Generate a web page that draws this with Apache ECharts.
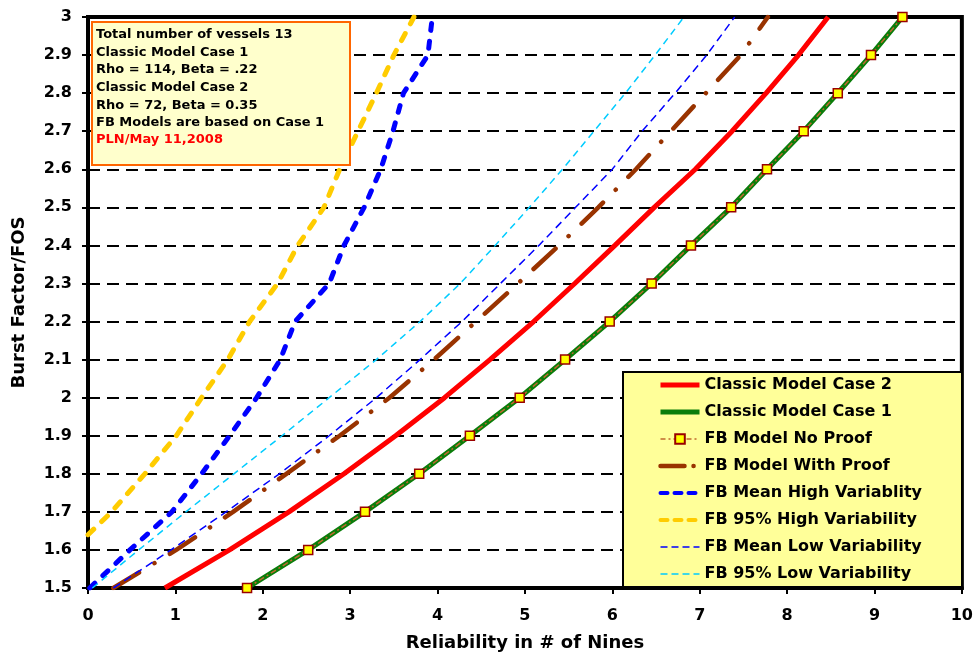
<!DOCTYPE html>
<html>
<head>
<meta charset="utf-8">
<script src="https://cdn.jsdelivr.net/npm/echarts/dist/echarts.min.js"></script>
<style>
  html, body { margin: 0; padding: 0; background: #fff; }
  #main { width: 976px; height: 658px; }
</style>
</head>
<body>
<div id="main"></div>
<script>
// burst factor levels (y) shared by most curves
var levels = [1.5, 1.6, 1.7, 1.8, 1.9, 2.0, 2.1, 2.2, 2.3, 2.4, 2.5, 2.6, 2.7, 2.8, 2.9, 3.0];

// reliability (# of nines) at each level
var caseTwo   = [0.88, 1.62, 2.30, 2.93, 3.52, 4.08, 4.60, 5.10, 5.57, 6.03, 6.48, 6.95, 7.37, 7.76, 8.13, 8.47];
var caseOne   = [1.82, 2.52, 3.17, 3.79, 4.37, 4.94, 5.46, 5.97, 6.45, 6.90, 7.36, 7.77, 8.19, 8.58, 8.96, 9.32];
var noProof   = [1.82, 2.52, 3.17, 3.79, 4.37, 4.94, 5.46, 5.97, 6.45, 6.90, 7.36, 7.77, 8.19, 8.58, 8.96, 9.32];
var withProof = [0.29, 1.01, 1.66, 2.27, 2.88, 3.45, 3.96, 4.44, 4.92, 5.39, 5.84, 6.27, 6.67, 7.07, 7.47, 7.78];
var meanHigh  = [0.02, 0.48, 0.96, 1.30, 1.62, 1.93, 2.20, 2.37, 2.76, 2.93, 3.16, 3.35, 3.49, 3.61, 3.89, 3.94];
var meanLow   = [0.29, 0.95, 1.58, 2.19, 2.76, 3.30, 3.80, 4.28, 4.72, 5.16, 5.58, 6.00, 6.34, 6.72, 7.08, 7.40];
var low95     = [0.05, 0.58, 1.12, 1.67, 2.22, 2.76, 3.30, 3.80, 4.26, 4.66, 5.05, 5.43, 5.79, 6.15, 6.49, 6.82];

// the 95% high variability curve starts higher up on the y axis
var high95Levels = [1.64, 1.7, 1.8, 1.9, 2.0, 2.1, 2.2, 2.3, 2.4, 2.5, 2.6, 2.7, 2.8, 2.9, 3.0];
var high95       = [0, 0.27, 0.65, 1.01, 1.30, 1.60, 1.85, 2.17, 2.40, 2.70, 2.88, 3.09, 3.30, 3.50, 3.73];

var infoLines = [
  'Total number of vessels 13',
  'Classic Model Case 1',
  'Rho = 114, Beta = .22',
  'Classic Model Case 2',
  'Rho = 72, Beta = 0.35',
  'FB Models are based on Case 1'
];
var stamp = 'PLN/May 11,2008';

var FONT = '"DejaVu Sans", Arial, sans-serif';

function pairs(xs, ys) {
  return xs.map(function (x, i) { return [x, ys[i]]; });
}

// legend entry with line only (hide the default circle symbol)
function lineOnly(name, lineStyle) {
  return { name: name, itemStyle: { opacity: 0, borderWidth: 0 }, lineStyle: lineStyle };
}

var chart = echarts.init(document.getElementById('main'), null, { renderer: 'canvas' });

var option = {
  animation: false,
  backgroundColor: '#fff',
  textStyle: { fontFamily: FONT },
  grid: {
    left: 88, right: 12, top: 17, bottom: 70,
    show: true, borderColor: '#000', borderWidth: 4, backgroundColor: '#fff'
  },
  xAxis: {
    type: 'value', min: 0, max: 10, interval: 1,
    name: 'Reliability in # of Nines', nameLocation: 'middle', nameGap: 46,
    nameTextStyle: { fontFamily: FONT, fontWeight: 'bold', fontSize: 18, color: '#000' },
    axisLine: { lineStyle: { color: '#000', width: 4 } },
    axisTick: { length: 6, lineStyle: { color: '#000', width: 2 } },
    axisLabel: { margin: 20, fontFamily: FONT, fontWeight: 'bold', fontSize: 16, color: '#000' },
    splitLine: { show: false }
  },
  yAxis: {
    type: 'value', min: 1.5, max: 3, interval: 0.1,
    name: 'Burst Factor/FOS', nameLocation: 'middle', nameGap: 60,
    nameTextStyle: { fontFamily: FONT, fontWeight: 'bold', fontSize: 18, color: '#000' },
    axisLine: { lineStyle: { color: '#000', width: 4 } },
    axisTick: { length: 6, lineStyle: { color: '#000', width: 2 } },
    axisLabel: { margin: 16, fontFamily: FONT, fontWeight: 'bold', fontSize: 16, color: '#000' },
    splitLine: { show: true, lineStyle: { color: '#000', width: 2, type: [12, 7] } }
  },
  legend: {
    orient: 'vertical', left: 623, top: 372,
    padding: [3, 40, 3, 35],
    backgroundColor: '#ffff99', borderColor: '#000', borderWidth: 2,
    itemWidth: 39, itemHeight: 12, itemGap: 7,
    textStyle: { fontFamily: FONT, fontWeight: 'bold', fontSize: 16, color: '#000', lineHeight: 20 },
    data: [
      lineOnly('Classic Model Case 2', { width: 5 }),
      lineOnly('Classic Model Case 1', { width: 5 }),
      { name: 'FB Model No Proof', lineStyle: { width: 1.5, type: [5, 3, 2, 3] } },
      lineOnly('FB Model With Proof', { width: 4.5, type: [24, 9, 0.1, 9], cap: 'round' }),
      lineOnly('FB Mean High Variablity', { width: 4, type: [7, 7], cap: 'round' }),
      lineOnly('FB 95% High Variability', { width: 4, type: [7, 7], cap: 'round' }),
      lineOnly('FB Mean Low Variability', { width: 1.5, type: [7, 4] }),
      lineOnly('FB 95% Low Variability', { width: 1.5, type: [7, 4] })
    ]
  },
  graphic: [
    {
      type: 'rect', left: 91, top: 21, z: 10,
      shape: { width: 258, height: 143 },
      style: { fill: '#ffffcc', stroke: '#ff6600', lineWidth: 2 }
    },
    {
      type: 'text', left: 96, top: 26, z: 11,
      style: { text: infoLines.join('\n'), font: 'bold 13px ' + FONT, lineHeight: 17.6, fill: '#000' }
    },
    {
      type: 'text', left: 96, top: 131, z: 11,
      style: { text: stamp, font: 'bold 13px ' + FONT, lineHeight: 17.6, fill: '#ff0000' }
    }
  ],
  series: [
    {
      name: 'Classic Model Case 2', type: 'line', symbol: 'none',
      data: pairs(caseTwo, levels),
      lineStyle: { color: '#ff0000', width: 5 }, itemStyle: { color: '#ff0000' }
    },
    {
      name: 'Classic Model Case 1', type: 'line', symbol: 'none',
      data: pairs(caseOne, levels),
      lineStyle: { color: '#0a7d0a', width: 5 }, itemStyle: { color: '#0a7d0a' }
    },
    {
      name: 'FB Model No Proof', type: 'line', symbol: 'rect', symbolSize: 9,
      data: pairs(noProof, levels),
      lineStyle: { color: '#c0692e', width: 1.5, type: [6, 3, 2, 3] },
      itemStyle: { color: '#ffff00', borderColor: '#990000', borderWidth: 1.5 }
    },
    {
      name: 'FB Model With Proof', type: 'line', symbol: 'none',
      data: pairs(withProof, levels),
      lineStyle: { color: '#993300', width: 4.5, type: [30, 18, 0.1, 18], cap: 'round' },
      itemStyle: { color: '#993300' }
    },
    {
      name: 'FB Mean High Variablity', type: 'line', symbol: 'none',
      data: pairs(meanHigh, levels),
      lineStyle: { color: '#0000ff', width: 5, type: [7, 11], cap: 'round' },
      itemStyle: { color: '#0000ff' }
    },
    {
      name: 'FB 95% High Variability', type: 'line', symbol: 'none',
      data: pairs(high95, high95Levels),
      lineStyle: { color: '#ffcc00', width: 5, type: [8, 11], cap: 'round' },
      itemStyle: { color: '#ffcc00' }
    },
    {
      name: 'FB Mean Low Variability', type: 'line', symbol: 'none',
      data: pairs(meanLow, levels),
      lineStyle: { color: '#0000ff', width: 1.5, type: [8, 5] },
      itemStyle: { color: '#0000ff' }
    },
    {
      name: 'FB 95% Low Variability', type: 'line', symbol: 'none',
      data: pairs(low95, levels),
      lineStyle: { color: '#00ccff', width: 1.5, type: [7, 5] },
      itemStyle: { color: '#00ccff' }
    }
  ]
};

chart.setOption(option);
</script>
</body>
</html>
